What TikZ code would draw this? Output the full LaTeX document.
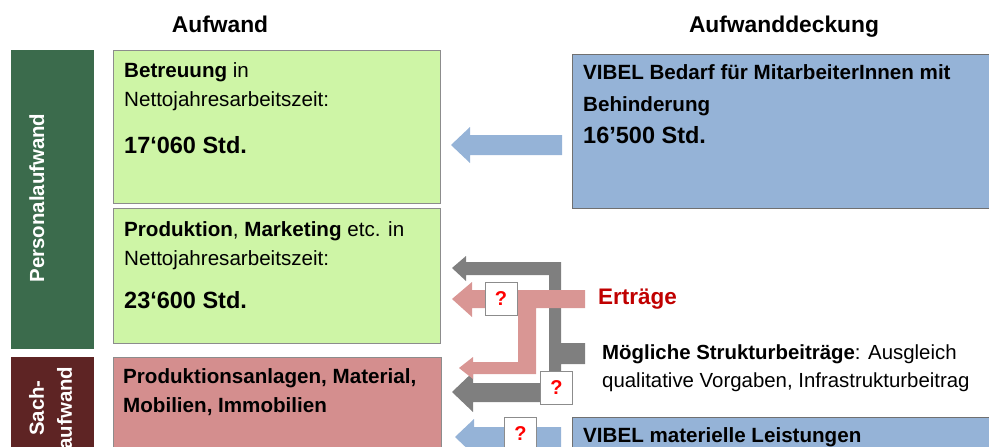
\documentclass[tikz,border=0pt]{standalone}
\usepackage{fontspec}
\setmainfont{Liberation Sans}
\usetikzlibrary{positioning, calc}

\definecolor{bargreen}{HTML}{3B6B4C}
\definecolor{barred}{HTML}{5E2424}
\definecolor{boxgreen}{HTML}{CEF5A6}
\definecolor{boxred}{HTML}{D48E8E}
\definecolor{boxblue}{HTML}{95B3D7}
\definecolor{boxline}{HTML}{8C8C8C}
\definecolor{arrowgray}{HTML}{7F7F7F}
\definecolor{arrowpink}{HTML}{D99694}
\definecolor{textred}{HTML}{C00000}

\begin{document}
\begin{tikzpicture}[x=1pt, y=-1pt,
	box/.style={draw=boxline, line width=0.8pt, anchor=north west, inner sep=0pt},
	bar/.style={fill=#1, anchor=north west, inner sep=0pt, minimum width=83pt},
	txt/.style={anchor=north west, inner sep=0pt, align=left, font=\fontsize{20.6}{29}\selectfont},
	num/.style={anchor=base west, inner sep=0pt, font=\fontsize{23.5}{28}\selectfont\bfseries},
	side/.style={rotate=90, text=white, inner sep=0pt, font=\fontsize{20.4}{28}\selectfont\bfseries},
	title/.style={anchor=base, inner sep=0pt, font=\fontsize{22.8}{28}\selectfont\bfseries},
	qbox/.style={draw=boxline, fill=white, line width=0.8pt, minimum width=32pt, minimum height=33pt, inner sep=0pt, text=red, font=\fontsize{20}{24}\selectfont\bfseries},
	larrow/.style args={#1/#2/#3}{to path={let \p1=(\tikztostart), \p2=(\tikztotarget) in
		(\x1,\y1+#1) -- (\x2+#3,\y1+#1) -- (\x2+#3,\y1+#2) -- (\x2,\y2) -- (\x2+#3,\y1-#2) -- (\x2+#3,\y1-#1) -- (\x1,\y1-#1) -- cycle}}]

	\useasboundingbox (0,0) rectangle (989,447);
	\clip (0,0) rectangle (989,447);

	\node[title						] (AUFWAND) 		at (220,32) {Aufwand};
	\node[title						] (DECKUNG) 		at (784,32) {Aufwanddeckung};

	% linke Spalte
	\node[bar=bargreen, minimum height=299pt	] (PERSONAL_BAR) 	at (11,50) {};
	\node[bar=barred, minimum height=100pt		] (SACH_BAR) 		at (11,357) {};
	\node[side, anchor=base					] (PERSONAL_LBL) 	at (44,198) {Personalaufwand};
	\node[side, align=center				] (SACH_LBL) 		at (50.7,408) {Sach-\\aufwand};

	\node[box, fill=boxgreen, minimum width=327pt, minimum height=153pt] (BETREUUNG) 	at (113,50) {};
	\node[box, fill=boxgreen, minimum width=327pt, minimum height=135pt] (PRODUKTION) 	at (113,208) {};
	\node[box, fill=boxred, minimum width=328pt, minimum height=110pt	] (SACH) 		at (113,357) {};

	\node[txt] (BETREUUNG_TXT) 	at ($(BETREUUNG.north west)+(11,12.3)$) {\textbf{Betreuung} in\\Nettojahresarbeitszeit:};
	\node[num] (BETREUUNG_STD) 	at ($(BETREUUNG.north west)+(11,103)$) {17‘060 Std.};
	\node[txt] (PRODUKTION_TXT) at ($(PRODUKTION.north west)+(11,13.3)$) {\textbf{Produktion}, \textbf{Marketing} etc. in\\Nettojahresarbeitszeit:};
	\node[num] (PRODUKTION_STD) at ($(PRODUKTION.north west)+(11,100)$) {23‘600 Std.};
	\node[txt, font=\fontsize{20.6}{29}\selectfont\bfseries] (SACH_TXT) at ($(SACH.north west)+(10,11.3)$) {Produktionsanlagen, Material,\\Mobilien, Immobilien};

	% rechte Spalte
	\node[box, fill=boxblue, draw=boxline!80!black, minimum width=430pt, minimum height=154pt] (BEDARF) 	at (572,54) {};
	\node[box, fill=boxblue, draw=boxline!80!black, minimum width=430pt, minimum height=60pt	] (MATERIELL) 	at (572,417) {};

	\node[txt, font=\fontsize{20.6}{32}\selectfont\bfseries] (BEDARF_TXT) at ($(BEDARF.north west)+(11,10.2)$) {VIBEL Bedarf für MitarbeiterInnen mit\\Behinderung};
	\node[num] (BEDARF_STD) 	at ($(BEDARF.north west)+(11,89)$) {16’500 Std.};
	\node[num, font=\fontsize{20.6}{29}\selectfont\bfseries] (MATERIELL_TXT) at ($(MATERIELL.north west)+(11,25)$) {VIBEL materielle Leistungen};

	\node[num, text=textred, font=\fontsize{22.5}{28}\selectfont\bfseries] (ERTRAEGE) at (598,304) {Erträge};
	\node[txt, font=\fontsize{20.4}{28}\selectfont] (STRUKTUR) at (602,344.3) {\textbf{Mögliche Strukturbeiträge}: Ausgleich\\qualitative Vorgaben, Infrastrukturbeitrag};

	% Pfeile
	\fill[arrowgray] (452,268) -- (466,256) -- (466,262) -- (561,262) -- (561,343) -- (585,343) -- (585,364) -- (561,364)
		-- (561,402) -- (473,402) -- (473,412) -- (452,392) -- (473,372) -- (473,383) -- (549,383) -- (549,275) -- (466,275) -- (466,281) -- cycle;
	\fill[arrowpink] (452,299) -- (472,282) -- (472,290) -- (585,290) -- (585,308) -- (536,308) -- (536,374) -- (473,374)
		-- (473,379) -- (459,368) -- (473,357) -- (473,362) -- (518,362) -- (518,308) -- (472,308) -- (472,317) -- cycle;

	\node[qbox] (Q_ERTRAEGE) 	at (501,298.5) {?};
	\node[qbox] (Q_STRUKTUR) 	at (556.5,387.5) {?};

	\coordinate (BEDARF_OUT) 	at (562,145);
	\coordinate (BETREUUNG_IN) 	at (451,145);
	\coordinate (MATERIELL_OUT) at (561,437);
	\coordinate (SACH_IN) 		at (455,437);

	\path[fill=boxblue]	(BEDARF_OUT)	to[larrow=10/18/19]	(BETREUUNG_IN)
						(MATERIELL_OUT)	to[larrow=10/18/19]	(SACH_IN);

	\node[qbox] (Q_MATERIELL) 	at (520.5,433.5) {?};

\end{tikzpicture}
\end{document}
